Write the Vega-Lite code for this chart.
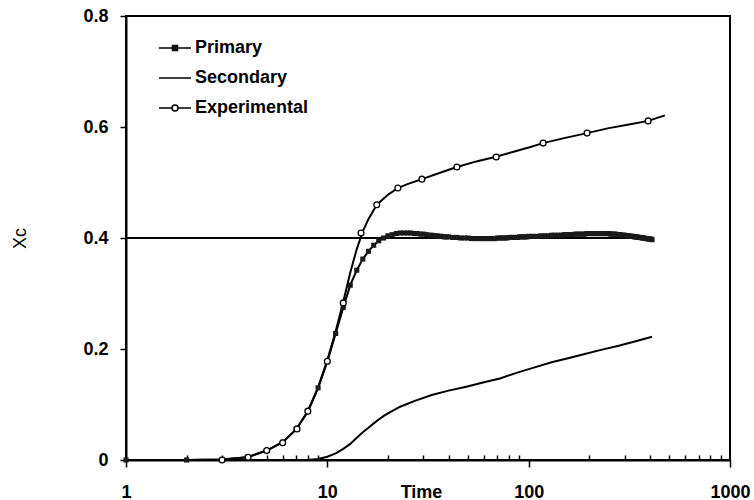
{
  "$schema": "https://vega.github.io/schema/vega-lite/v6.json",
  "width": 604,
  "height": 444,
  "autosize": {"type": "none"},
  "padding": {"left": 126, "top": 16, "right": 24, "bottom": 40},
  "background": "white",
  "view": {"stroke": "black", "strokeWidth": 2},
  "config": {
    "font": "Liberation Sans",
    "axis": {
      "domainColor": "black",
      "domainWidth": 2,
      "tickColor": "black",
      "tickWidth": 1.5,
      "grid": false,
      "labelFont": "Liberation Sans",
      "labelFontSize": 18,
      "labelFontWeight": "bold",
      "labelColor": "black",
      "titleFont": "Liberation Sans",
      "titleFontSize": 18,
      "titleColor": "black"
    }
  },
  "datasets": {
    "reference": [
      {"t": 1, "x_c": 0.4},
      {"t": 400, "x_c": 0.4}
    ],
    "primary": [
      {"t": 1, "x_c": 0}, {"t": 2, "x_c": 0}, {"t": 3, "x_c": 0.001}, {"t": 4, "x_c": 0.005},
      {"t": 5, "x_c": 0.017}, {"t": 6, "x_c": 0.032}, {"t": 7, "x_c": 0.055}, {"t": 8, "x_c": 0.087},
      {"t": 9, "x_c": 0.13}, {"t": 10, "x_c": 0.177}, {"t": 11, "x_c": 0.228}, {"t": 12, "x_c": 0.275},
      {"t": 13, "x_c": 0.315}, {"t": 14, "x_c": 0.342}, {"t": 15, "x_c": 0.362}, {"t": 16, "x_c": 0.376},
      {"t": 17, "x_c": 0.387}, {"t": 18, "x_c": 0.395}, {"t": 19, "x_c": 0.4}, {"t": 20, "x_c": 0.404},
      {"t": 21, "x_c": 0.406}, {"t": 22, "x_c": 0.408}, {"t": 23, "x_c": 0.409}, {"t": 24, "x_c": 0.409},
      {"t": 25, "x_c": 0.409}, {"t": 26, "x_c": 0.409}, {"t": 27, "x_c": 0.408}, {"t": 28, "x_c": 0.408},
      {"t": 29, "x_c": 0.407}, {"t": 30, "x_c": 0.407}, {"t": 31, "x_c": 0.406}, {"t": 32, "x_c": 0.405},
      {"t": 33, "x_c": 0.405}, {"t": 34, "x_c": 0.404}, {"t": 35, "x_c": 0.404}, {"t": 36, "x_c": 0.403},
      {"t": 37, "x_c": 0.403}, {"t": 38, "x_c": 0.402}, {"t": 39, "x_c": 0.402}, {"t": 40, "x_c": 0.402},
      {"t": 42, "x_c": 0.401}, {"t": 44, "x_c": 0.401}, {"t": 46, "x_c": 0.4}, {"t": 48, "x_c": 0.4},
      {"t": 50, "x_c": 0.4}, {"t": 52, "x_c": 0.399}, {"t": 54, "x_c": 0.399}, {"t": 56, "x_c": 0.399},
      {"t": 58, "x_c": 0.399}, {"t": 60, "x_c": 0.399}, {"t": 62, "x_c": 0.399}, {"t": 64, "x_c": 0.399},
      {"t": 66, "x_c": 0.399}, {"t": 68, "x_c": 0.399}, {"t": 70, "x_c": 0.4}, {"t": 72, "x_c": 0.4},
      {"t": 74, "x_c": 0.4}, {"t": 76, "x_c": 0.4}, {"t": 78, "x_c": 0.4}, {"t": 80, "x_c": 0.401},
      {"t": 82, "x_c": 0.401}, {"t": 84, "x_c": 0.401}, {"t": 86, "x_c": 0.401}, {"t": 88, "x_c": 0.401},
      {"t": 90, "x_c": 0.402}, {"t": 92, "x_c": 0.402}, {"t": 94, "x_c": 0.402}, {"t": 96, "x_c": 0.402},
      {"t": 98, "x_c": 0.402}, {"t": 100, "x_c": 0.403}, {"t": 105, "x_c": 0.403}, {"t": 110, "x_c": 0.403},
      {"t": 115, "x_c": 0.404}, {"t": 120, "x_c": 0.404}, {"t": 125, "x_c": 0.404}, {"t": 130, "x_c": 0.405},
      {"t": 135, "x_c": 0.405}, {"t": 140, "x_c": 0.405}, {"t": 145, "x_c": 0.405}, {"t": 150, "x_c": 0.406},
      {"t": 155, "x_c": 0.406}, {"t": 160, "x_c": 0.406}, {"t": 165, "x_c": 0.406}, {"t": 170, "x_c": 0.407},
      {"t": 175, "x_c": 0.407}, {"t": 180, "x_c": 0.407}, {"t": 185, "x_c": 0.407}, {"t": 190, "x_c": 0.407},
      {"t": 195, "x_c": 0.408}, {"t": 200, "x_c": 0.408}, {"t": 205, "x_c": 0.408}, {"t": 210, "x_c": 0.408},
      {"t": 215, "x_c": 0.408}, {"t": 220, "x_c": 0.408}, {"t": 225, "x_c": 0.408}, {"t": 230, "x_c": 0.408},
      {"t": 235, "x_c": 0.408}, {"t": 240, "x_c": 0.408}, {"t": 245, "x_c": 0.408}, {"t": 250, "x_c": 0.408},
      {"t": 255, "x_c": 0.407}, {"t": 260, "x_c": 0.407}, {"t": 265, "x_c": 0.407}, {"t": 270, "x_c": 0.407},
      {"t": 275, "x_c": 0.406}, {"t": 280, "x_c": 0.406}, {"t": 285, "x_c": 0.406}, {"t": 290, "x_c": 0.405},
      {"t": 295, "x_c": 0.405}, {"t": 300, "x_c": 0.405}, {"t": 305, "x_c": 0.404}, {"t": 310, "x_c": 0.404},
      {"t": 315, "x_c": 0.404}, {"t": 320, "x_c": 0.403}, {"t": 325, "x_c": 0.403}, {"t": 330, "x_c": 0.403},
      {"t": 335, "x_c": 0.402}, {"t": 340, "x_c": 0.402}, {"t": 345, "x_c": 0.402}, {"t": 350, "x_c": 0.401},
      {"t": 355, "x_c": 0.401}, {"t": 360, "x_c": 0.401}, {"t": 365, "x_c": 0.4}, {"t": 370, "x_c": 0.4},
      {"t": 375, "x_c": 0.4}, {"t": 380, "x_c": 0.399}, {"t": 385, "x_c": 0.399}, {"t": 390, "x_c": 0.399},
      {"t": 395, "x_c": 0.398}, {"t": 400, "x_c": 0.398}, {"t": 405, "x_c": 0.398}, {"t": 410, "x_c": 0.397}
    ],
    "secondary": [
      {"t": 1, "x_c": 0}, {"t": 8, "x_c": 0}, {"t": 9, "x_c": 0.002}, {"t": 10, "x_c": 0.006},
      {"t": 11, "x_c": 0.012}, {"t": 12, "x_c": 0.02}, {"t": 13, "x_c": 0.029}, {"t": 14, "x_c": 0.04},
      {"t": 15, "x_c": 0.05}, {"t": 16, "x_c": 0.058}, {"t": 17, "x_c": 0.066}, {"t": 18, "x_c": 0.073},
      {"t": 19, "x_c": 0.079}, {"t": 20, "x_c": 0.084}, {"t": 23, "x_c": 0.096}, {"t": 27, "x_c": 0.106},
      {"t": 33, "x_c": 0.117}, {"t": 40, "x_c": 0.125}, {"t": 49, "x_c": 0.132}, {"t": 60, "x_c": 0.14},
      {"t": 72, "x_c": 0.147}, {"t": 87, "x_c": 0.157}, {"t": 105, "x_c": 0.166}, {"t": 130, "x_c": 0.176},
      {"t": 155, "x_c": 0.183}, {"t": 190, "x_c": 0.191}, {"t": 226, "x_c": 0.198}, {"t": 280, "x_c": 0.206},
      {"t": 340, "x_c": 0.214}, {"t": 410, "x_c": 0.222}
    ],
    "combined": [
      {"t": 1, "x_c": 0}, {"t": 2, "x_c": 0}, {"t": 3, "x_c": 0.001}, {"t": 4, "x_c": 0.005},
      {"t": 5, "x_c": 0.017}, {"t": 6, "x_c": 0.032}, {"t": 7, "x_c": 0.055}, {"t": 8, "x_c": 0.088},
      {"t": 9, "x_c": 0.131}, {"t": 10, "x_c": 0.18}, {"t": 11, "x_c": 0.232}, {"t": 12, "x_c": 0.285},
      {"t": 13, "x_c": 0.338}, {"t": 14, "x_c": 0.38}, {"t": 15, "x_c": 0.412}, {"t": 16, "x_c": 0.434},
      {"t": 17.6, "x_c": 0.46}, {"t": 20, "x_c": 0.478}, {"t": 22.4, "x_c": 0.49}, {"t": 25, "x_c": 0.497},
      {"t": 30, "x_c": 0.507}, {"t": 36, "x_c": 0.517}, {"t": 44, "x_c": 0.528}, {"t": 55, "x_c": 0.538},
      {"t": 68, "x_c": 0.546}, {"t": 85, "x_c": 0.556}, {"t": 100, "x_c": 0.563}, {"t": 118, "x_c": 0.571},
      {"t": 150, "x_c": 0.58}, {"t": 195, "x_c": 0.589}, {"t": 250, "x_c": 0.598}, {"t": 320, "x_c": 0.605},
      {"t": 392, "x_c": 0.611}, {"t": 475, "x_c": 0.621}
    ],
    "experimental": [
      {"t": 3, "x_c": 0}, {"t": 4.04, "x_c": 0.005}, {"t": 5, "x_c": 0.017}, {"t": 6, "x_c": 0.031},
      {"t": 7.07, "x_c": 0.056}, {"t": 8, "x_c": 0.088}, {"t": 10, "x_c": 0.178}, {"t": 12, "x_c": 0.283},
      {"t": 14.7, "x_c": 0.409}, {"t": 17.6, "x_c": 0.46}, {"t": 22.4, "x_c": 0.49}, {"t": 29.5, "x_c": 0.506},
      {"t": 44, "x_c": 0.528}, {"t": 69, "x_c": 0.546}, {"t": 118, "x_c": 0.571}, {"t": 195, "x_c": 0.589},
      {"t": 392, "x_c": 0.611}
    ]
  },
  "encoding": {
    "x": {
      "field": "t",
      "type": "quantitative",
      "scale": {"type": "log", "domain": [1, 1000], "nice": false},
      "axis": {
        "title": "Time",
        "titleFontWeight": "bold",
        "titleX": 295,
        "titleY": 37,
        "titleBaseline": "alphabetic",
        "values": [1, 2, 3, 4, 5, 6, 7, 8, 9, 10, 20, 30, 40, 50, 60, 70, 80, 90, 100, 200, 300, 400, 500, 600, 700, 800, 900, 1000],
        "labelExpr": "indexof([1, 10, 100, 1000], datum.value) >= 0 ? format(datum.value, 'd') : ''",
        "labelOverlap": false,
        "labelFlush": false,
        "labelBaseline": "alphabetic",
        "labelPadding": 30,
        "tickSize": {"condition": {"test": "indexof([1, 10, 100, 1000], datum.value) >= 0", "value": 7}, "value": -5}
      }
    },
    "y": {
      "field": "x_c",
      "type": "quantitative",
      "scale": {"domain": [0, 0.8], "nice": false},
      "axis": {
        "title": "Xc",
        "titleFontWeight": "normal",
        "titleAngle": 270,
        "titleX": -106,
        "titleY": 222,
        "titleAlign": "center",
        "titleBaseline": "middle",
        "values": [0, 0.2, 0.4, 0.6, 0.8],
        "labelExpr": "datum.value == 0 ? '0' : format(datum.value, '.1f')",
        "tickSize": 6,
        "labelPadding": 12
      }
    }
  },
  "layer": [
    {
      "data": {"name": "reference"},
      "mark": {"type": "line", "color": "black", "strokeWidth": 2},
      "encoding": {}
    },
    {
      "data": {"name": "combined"},
      "mark": {"type": "line", "strokeWidth": 2},
      "encoding": {
        "color": {
          "datum": "Experimental",
          "type": "nominal",
          "scale": {"domain": ["Primary", "Secondary", "Experimental"], "range": ["black", "black", "black"]},
          "legend": {
            "title": null,
            "orient": "none",
            "legendX": 38,
            "legendY": 21,
            "padding": 0,
            "symbolSize": 400,
            "symbolStrokeWidth": 1.5,
            "labelFont": "Liberation Sans",
            "labelFontSize": 18,
            "labelFontWeight": "bold",
            "labelColor": "black",
            "labelOffset": 9,
            "rowPadding": 10,
            "encode": {
              "symbols": {
                "update": {
                  "shape": {"signal": "datum.value === 'Primary' ? 'M-1.6,0H1.6M-0.25,-0.25H0.25V0.25H-0.25Z' : datum.value === 'Secondary' ? 'M-1.6,0H1.6' : 'M-1.6,0H-0.3M0.3,0H1.6M0.3,0A0.3,0.3,0,1,1,-0.3,0A0.3,0.3,0,1,1,0.3,0Z'"},
                  "fill": {"signal": "datum.value === 'Primary' ? '#333' : datum.value === 'Experimental' ? 'white' : 'transparent'"},
                  "stroke": {"value": "black"},
                  "strokeWidth": {"value": 1.5}
                }
              }
            }
          }
        }
      }
    },
    {
      "data": {"name": "secondary"},
      "mark": {"type": "line", "strokeWidth": 2},
      "encoding": {
        "color": {"datum": "Secondary", "type": "nominal"}
      }
    },
    {
      "data": {"name": "primary"},
      "mark": {"type": "line", "strokeWidth": 2},
      "encoding": {
        "color": {"datum": "Primary", "type": "nominal"}
      }
    },
    {
      "data": {"name": "primary"},
      "mark": {"type": "square", "size": 26, "filled": true, "color": "#1a1a1a", "opacity": 1}
    },
    {
      "data": {"name": "experimental"},
      "mark": {"type": "point", "shape": "circle", "size": 34, "filled": true, "fill": "white", "stroke": "black", "strokeWidth": 1.3, "opacity": 1}
    }
  ]
}
